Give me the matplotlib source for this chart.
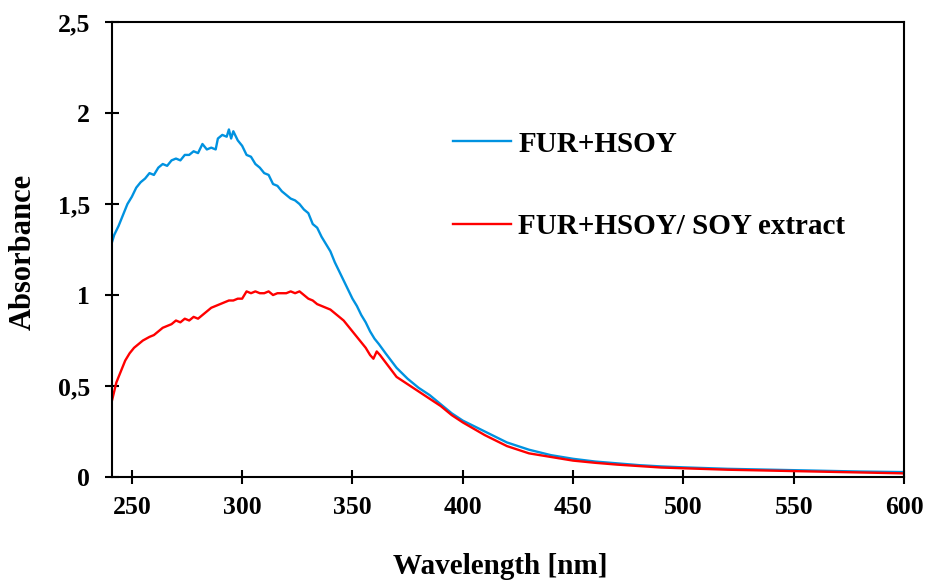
import numpy as np
import matplotlib
matplotlib.use("Agg")
import matplotlib.pyplot as plt

# ---------------------------- data ----------------------------
wl_fur = [241, 242, 244, 246, 248, 250, 252, 254, 256, 258, 260, 262, 264, 266, 268,
          270, 272, 274, 276, 278, 280, 282, 284, 286, 288, 289, 291, 293, 294, 295,
          296, 298, 300, 302, 304, 306, 308, 310, 312, 314, 316, 318, 320, 322, 324,
          326, 328, 330, 332, 334, 336, 338, 340, 342, 344, 346, 348, 350, 352, 354,
          356, 358, 360, 362, 365, 370, 375, 380, 385, 390, 395, 400, 410, 420, 430,
          440, 450, 460, 470, 480, 490, 500, 520, 540, 560, 580, 600]
abs_fur = [1.29, 1.33, 1.38, 1.44, 1.50, 1.54, 1.59, 1.62, 1.64, 1.67, 1.66, 1.70, 1.72, 1.71, 1.74,
           1.75, 1.74, 1.77, 1.77, 1.79, 1.78, 1.83, 1.80, 1.81, 1.80, 1.86, 1.88, 1.87, 1.91, 1.86,
           1.90, 1.85, 1.82, 1.77, 1.76, 1.72, 1.70, 1.67, 1.66, 1.61, 1.60, 1.57, 1.55, 1.53, 1.52,
           1.50, 1.47, 1.45, 1.39, 1.37, 1.32, 1.28, 1.24, 1.18, 1.13, 1.08, 1.03, 0.98, 0.94, 0.89,
           0.85, 0.80, 0.76, 0.73, 0.68, 0.60, 0.54, 0.49, 0.45, 0.40, 0.35, 0.31, 0.25, 0.19, 0.15,
           0.12, 0.10, 0.085, 0.075, 0.065, 0.058, 0.053, 0.045, 0.040, 0.035, 0.030, 0.027]

wl_soy = [241, 242, 243, 245, 247, 249, 251, 253, 255, 258, 260, 262, 264, 266, 268,
          270, 272, 274, 276, 278, 280, 282, 284, 286, 288, 290, 292, 294, 296, 298,
          300, 302, 304, 306, 308, 310, 312, 314, 316, 318, 320, 322, 324, 326, 328,
          330, 332, 334, 336, 338, 340, 342, 344, 346, 348, 350, 352, 354, 356, 358,
          359.5, 361, 362.5, 365, 370, 375, 380, 385, 390, 395, 400, 410, 420, 430,
          440, 450, 460, 470, 480, 490, 500, 520, 540, 560, 580, 600]
abs_soy = [0.42, 0.47, 0.52, 0.58, 0.64, 0.68, 0.71, 0.73, 0.75, 0.77, 0.78, 0.80, 0.82, 0.83, 0.84,
           0.86, 0.85, 0.87, 0.86, 0.88, 0.87, 0.89, 0.91, 0.93, 0.94, 0.95, 0.96, 0.97, 0.97, 0.98,
           0.98, 1.02, 1.01, 1.02, 1.01, 1.01, 1.02, 1.00, 1.01, 1.01, 1.01, 1.02, 1.01, 1.02, 1.00,
           0.98, 0.97, 0.95, 0.94, 0.93, 0.92, 0.90, 0.88, 0.86, 0.83, 0.80, 0.77, 0.74, 0.71, 0.67,
           0.65, 0.69, 0.67, 0.63, 0.55, 0.51, 0.47, 0.43, 0.39, 0.34, 0.30, 0.23, 0.17, 0.13,
           0.11, 0.09, 0.078, 0.068, 0.06, 0.052, 0.048, 0.04, 0.035, 0.03, 0.025, 0.02]

series_labels = ["FUR+HSOY", "FUR+HSOY/ SOY extract"]
x_ticks = [250, 300, 350, 400, 450, 500, 550, 600]
y_ticks = [0, 0.5, 1, 1.5, 2, 2.5]
y_ticklabels = ["0", "0,5", "1", "1,5", "2", "2,5"]
# ----------------------------------------------------------------------------------

plt.rcParams["font.family"] = "Liberation Serif"
plt.rcParams["font.weight"] = "bold"

fig = plt.figure(figsize=(9.27, 5.81), dpi=100)
ax = fig.add_axes([0.1208, 0.179, 0.8544, 0.783])

ax.plot(wl_fur, abs_fur, color="#0092E0", lw=1.7, label=series_labels[0])
ax.plot(wl_soy, abs_soy, color="#FF0000", lw=1.7, label=series_labels[1])

ax.set_xlim(241, 600)
ax.set_ylim(0, 2.5)
ax.set_xticks(x_ticks)
ax.set_yticks(y_ticks)
ax.set_yticklabels(y_ticklabels)

for s in ax.spines.values():
    s.set_linewidth(1.5)
ax.tick_params(direction="inout", length=10, width=1.5, labelsize=18.5)
ax.tick_params(axis="y", pad=11)
ax.tick_params(axis="x", pad=9)

ax.set_xlabel("Wavelength [nm]", fontsize=21, fontweight="bold", va="center")
ax.xaxis.set_label_coords(0.49, -0.197)
ax.set_ylabel("Absorbance", fontsize=22, fontweight="bold", va="center")
ax.yaxis.set_label_coords(-0.112, 0.495)

leg = ax.legend(loc="upper left", bbox_to_anchor=(0.397, 0.819), frameon=False,
                fontsize=21, handlelength=2.0, handletextpad=0.25, labelspacing=1.9)
for t in leg.get_texts():
    t.set_fontweight("bold")

fig.savefig("out.png", dpi=100)
